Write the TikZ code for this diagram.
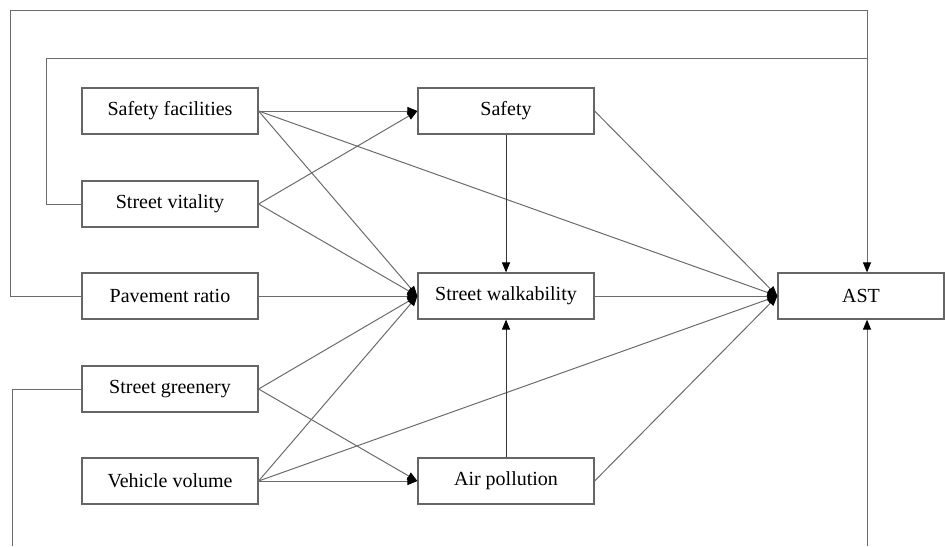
\documentclass[tikz,border=0pt]{standalone}
\usepackage{fontspec}
\setmainfont{Liberation Serif}
\usetikzlibrary{arrows.meta}
\begin{document}
\begin{tikzpicture}[x=0.5pt,y=-0.5pt,
  box/.style={draw=black!60,line width=0.6pt,minimum width=88pt,minimum height=23pt,inner sep=0pt,font=\fontsize{10pt}{12pt}\selectfont},
  link/.style={draw=black!58,line width=0.5pt},
  arr/.style={link,-{Triangle[length=5pt,width=4pt,color=black,fill=black]}}]
\useasboundingbox (0,0) rectangle (945,546);
\node[box] (sf) at (170,111) {Safety facilities};
\node[box] (sv) at (170,204) {Street vitality};
\node[box] (pr) at (170,296) {Pavement ratio};
\node[box] (sg) at (170,389) {Street greenery};
\node[box] (vv) at (170,481) {Vehicle volume};
\node[box] (sa) at (506,111) {Safety};
\node[box] (sw) at (506,296) {Street walkability};
\node[box] (ap) at (506,481) {Air pollution};
\node[box,minimum width=83pt] (ast) at (861,296) {AST};
\coordinate (t1) at (10,10);
\coordinate (t2) at (46,58);
\coordinate (tj) at (867,58);
\coordinate (b1) at (12,546);
\coordinate (b2) at (867,546);
\draw[arr] (sf) -- (sa);
\draw[arr] (sf.east) -- (sw.west);
\draw[arr] (sf.east) -- (ast.west);
\draw[arr] (sv.east) -- (sa.west);
\draw[arr] (sv.east) -- (sw.west);
\draw[arr] (pr) -- (sw);
\draw[arr] (sg.east) -- (sw.west);
\draw[arr] (sg.east) -- (ap.west);
\draw[arr] (vv.east) -- (sw.west);
\draw[arr] (vv) -- (ap);
\draw[arr] (vv.east) -- (ast.west);
\draw[arr,draw=black!80] (sa) -- (sw);
\draw[arr,draw=black!80] (ap) -- (sw);
\draw[arr] (sa.east) -- (ast.west);
\draw[arr] (sw) -- (ast);
\draw[arr] (ap.east) -- (ast.west);
\draw[arr] (pr.west) -| (t1) -| ([xshift=3pt]ast.north);
\draw[link] (sv.west) -| (t2) -- (tj);
\draw[link] (sg.west) -| (b1);
\draw[arr] (b2) -- (b2 |- ast.south);
\end{tikzpicture}
\end{document}
